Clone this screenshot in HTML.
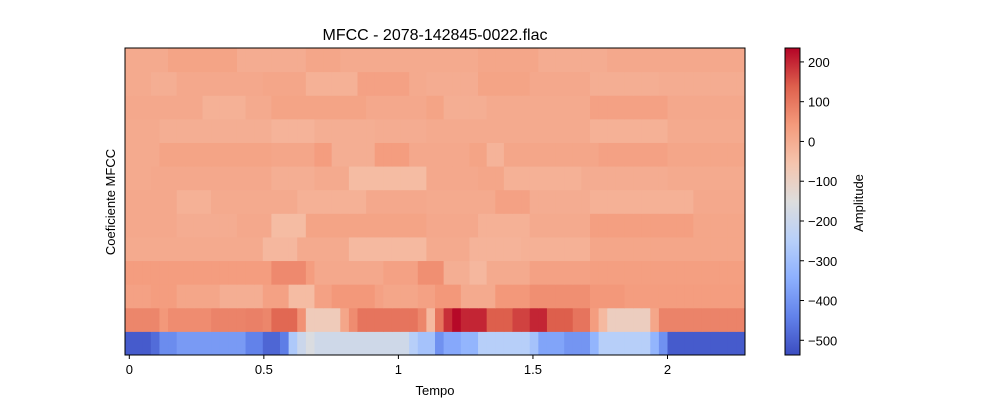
<!DOCTYPE html>
<html><head><meta charset="utf-8"><style>
body{margin:0;background:#fff;}
svg text{font-family:"Liberation Sans","DejaVu Sans",sans-serif;font-size:13px;fill:#000;}
</style></head><body>
<svg id="chart" width="1000" height="400" xmlns="http://www.w3.org/2000/svg">
<g id="cells"></g>
<rect x="125" y="48" width="620" height="307" fill="none" stroke="#000" stroke-width="1"/>
<text x="435" y="40" text-anchor="middle" style="font-size:16px">MFCC - 2078-142845-0022.flac</text>
<text x="435" y="395" text-anchor="middle">Tempo</text>
<text transform="translate(115,202) rotate(-90)" text-anchor="middle">Coeficiente MFCC</text>
<g id="xticks"></g>
<defs><linearGradient id="cg" x1="0" y1="1" x2="0" y2="0"></linearGradient></defs>
<rect x="785" y="48" width="15" height="307" fill="url(#cg)" stroke="#000" stroke-width="1"/>
<g id="cticks"></g>
<text transform="translate(863,203) rotate(-90)" text-anchor="middle">Amplitude</text>
</svg>
<script>
// run-length data per coefficient row: [value, frameCount], row 0 = bottom
const row0=[[-510,3],[-480,1],[-420,2],[-390,8],[-440,2],[-490,2],[-450,1],[-270,1],[-200,1],[-160,1],[-190,11],[-250,1],[-290,2],[-410,1],[-360,2],[-330,2],[-250,6],[-290,1],[-370,3],[-400,3],[-330,1],[-250,6],[-330,1],[-410,1],[-510,9]];
const row1=[[75,4],[45,1],[65,5],[80,4],[85,2],[75,1],[125,3],[55,1],[-80,4],[15,1],[65,1],[105,7],[75,1],[-30,1],[105,1],[190,1],[230,1],[200,3],[140,3],[170,2],[200,2],[140,3],[105,2],[35,1],[-30,1],[-90,5],[15,1],[80,10]];
const row2=[[25,3],[35,3],[15,5],[-5,5],[25,3],[-35,3],[25,2],[45,5],[25,1],[15,4],[25,2],[45,3],[5,4],[45,4],[60,7],[45,4],[35,14]];
const row3=[[35,17],[70,4],[35,1],[10,8],[25,4],[60,3],[-5,3],[-25,2],[5,5],[25,7],[30,18]];
const row4=[[5,16],[-25,4],[5,6],[-30,9],[5,5],[-15,6],[-10,8],[15,18]];
const row5=[[10,6],[0,7],[10,4],[-35,4],[20,14],[10,6],[-10,6],[5,7],[30,12],[15,6]];
const row6=[[10,6],[-10,4],[5,10],[-10,8],[10,7],[5,8],[25,4],[0,7],[-10,12],[10,6]];
const row7=[[5,3],[10,14],[-5,5],[5,4],[-35,9],[10,6],[15,3],[-10,9],[0,10],[5,9]];
const row8=[[5,4],[20,13],[15,5],[35,2],[-5,5],[35,4],[10,2],[10,5],[20,2],[-15,2],[15,11],[25,8],[15,9]];
const row9=[[5,4],[-5,13],[-15,5],[-5,7],[0,6],[5,19],[-10,9],[5,9]];
const row10=[[10,9],[-10,5],[5,3],[20,11],[10,7],[20,2],[-5,5],[5,12],[25,9],[10,9]];
const row11=[[5,3],[-5,3],[10,10],[15,5],[-10,6],[25,6],[5,2],[0,6],[20,6],[10,7],[-5,8],[0,10]];
const row12=[[5,5],[20,8],[0,8],[15,4],[5,16],[15,7],[0,8],[10,16]];
const rows=[row0,row1,row2,row3,row4,row5,row6,row7,row8,row9,row10,row11,row12];
const xTicks=[0,0.5,1,1.5,2];
const xTickLabels=["0","0.5","1","1.5","2"];
const cTicks=[200,100,0,-100,-200,-300,-400,-500];
const vmin=-537, vmax=235, t0=-0.016, frameDur=0.032;
const svg=document.getElementById('chart');
const NS='http://www.w3.org/2000/svg';
const PX0=125,PX1=745,PY0=48,PY1=355;
const nFrames=72;
const xs=t=>PX0+(t-t0)/(nFrames*frameDur)*(PX1-PX0);
const ys=r=>PY1-(r+1)*(PY1-PY0)/rows.length;
const cs=v=>355-(v-vmin)/(vmax-vmin)*307;
const stops=[[59,76,192],[98,130,234],[141,176,254],[184,208,249],[221,221,221],[245,196,173],[244,154,123],[222,96,77],[180,4,38]];
function cmap(v){let t=Math.max(0,Math.min(1,(v-vmin)/(vmax-vmin)))*8;let i=Math.min(7,Math.floor(t)),f=t-i;const a=stops[i],b=stops[i+1];return 'rgb('+a.map((c,k)=>Math.round(c+(b[k]-c)*f)).join(',')+')';}
const g=document.getElementById('cells');
const rh=(PY1-PY0)/rows.length;
rows.forEach((row,r)=>{let f=0;row.forEach(([v,n])=>{for(let k=0;k<n;k++){const x0=xs(t0+f*frameDur),x1=xs(t0+(f+1)*frameDur);
const el=document.createElementNS(NS,'rect');


el.setAttribute('x',x0);el.setAttribute('y',ys(r));el.setAttribute('width',x1-x0+0.5);el.setAttribute('height',rh+0.5);el.setAttribute('fill',cmap(v));g.appendChild(el);f++;}});});
const xg=document.getElementById('xticks');
xTicks.forEach((t,i)=>{const x=xs(t);
const l=document.createElementNS(NS,'line');


l.setAttribute('x1',x);l.setAttribute('x2',x);l.setAttribute('y1',355);l.setAttribute('y2',359);l.setAttribute('stroke','#000');xg.appendChild(l);
const tx=document.createElementNS(NS,'text');


tx.setAttribute('x',x);tx.setAttribute('y',374);tx.setAttribute('text-anchor','middle');tx.textContent=xTickLabels[i];xg.appendChild(tx);});
const grad=document.getElementById('cg');
for(let i=0;i<=8;i++){const s=document.createElementNS(NS,'stop');s.setAttribute('offset',i/8);s.setAttribute('stop-color','rgb('+stops[i].join(',')+')');grad.appendChild(s);}
const cg=document.getElementById('cticks');
cTicks.forEach(v=>{const y=cs(v);
const l=document.createElementNS(NS,'line');


l.setAttribute('x1',800);l.setAttribute('x2',804);l.setAttribute('y1',y);l.setAttribute('y2',y);l.setAttribute('stroke','#000');cg.appendChild(l);
const tx=document.createElementNS(NS,'text');


tx.setAttribute('x',808);tx.setAttribute('y',y+5);tx.textContent=v<0?'\u2212'+(-v):String(v);cg.appendChild(tx);});
</script>
</body></html>
